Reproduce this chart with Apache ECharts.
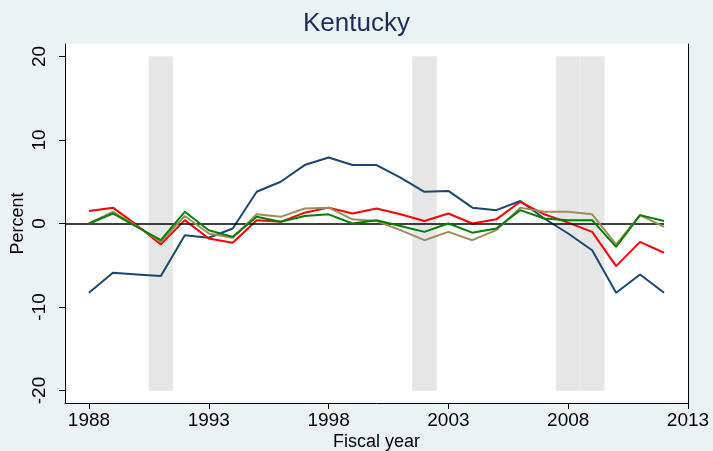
<!DOCTYPE html>
<html>
<head>
<meta charset="utf-8">
<script src="https://cdn.jsdelivr.net/npm/echarts@6/dist/echarts.min.js"></script>
<style>html,body{margin:0;padding:0;background:#eaf2f3;}#c{width:713px;height:451px;}</style>
</head>
<body>
<div id="c"></div>
<script>
var years = [1988,1989,1990,1991,1992,1993,1994,1995,1996,1997,1998,1999,2000,2001,2002,2003,2004,2005,2006,2007,2008,2009,2010,2011,2012];
var navy  = [-8.3,-5.9,-6.1,-6.3,-1.4,-1.7,-0.6,3.8,5.0,7.0,7.9,7.0,7.0,5.5,3.8,3.9,1.9,1.6,2.7,0.6,-1.2,-3.2,-8.3,-6.1,-8.3];
var red   = [1.5,1.9,-0.2,-2.5,0.4,-1.8,-2.3,0.4,0.2,1.3,1.9,1.2,1.8,1.1,0.3,1.2,0.0,0.5,2.6,1.1,0.1,-1.0,-5.1,-2.2,-3.5];
var green = [0.0,1.2,-0.4,-2.0,1.4,-0.8,-1.6,0.8,0.2,0.9,1.1,0.0,0.4,-0.3,-1.0,0.0,-1.1,-0.6,1.6,0.6,0.4,0.4,-2.8,1.0,0.3];
var tan   = [0.0,1.4,-0.3,-2.2,0.9,-1.2,-1.7,1.1,0.8,1.8,1.9,0.5,0.3,-0.8,-2.0,-1.0,-2.0,-0.8,1.9,1.4,1.4,1.1,-2.5,1.0,-0.4];
var xTicks = [1988,1993,1998,2003,2008,2013];
var yTicks = [-20,-10,0,10,20];
var bands = [[1990.5,1991.5],[2001.5,2002.5],[2007.5,2008.5],[2008.5,2009.5]];

function pairs(v){ return years.map(function(y,i){ return [y, v[i]]; }); }
var font = 'Liberation Sans, Arial, sans-serif';

var chart = echarts.init(document.getElementById('c'));
chart.setOption({
  backgroundColor: '#eaf2f3',
  animation: false,
  title: { text: 'Kentucky', left: 'center', top: 6,
    textStyle: { fontFamily: font, fontSize: 26, fontWeight: 'normal', color: '#1c2d5c' } },
  grid: { left: 65, right: 25, top: 44, bottom: 48, show: true, backgroundColor: '#ffffff', borderWidth: 0,
    containLabel: false, outerBoundsMode: 'none' },
  xAxis: {
    type: 'value', min: 1987, max: 2013,
    name: 'Fiscal year', nameLocation: 'middle', nameGap: 30, nameMoveOverlap: false,
    nameTextStyle: { fontFamily: font, fontSize: 18, color: '#000' },
    axisLine: { show: true, onZero: false, lineStyle: { color: '#000', width: 1 } },
    axisTick: { show: true, length: 6, customValues: xTicks, lineStyle: { color: '#000' } },
    axisLabel: { customValues: xTicks, formatter: function(v){ return String(v); },
      fontFamily: font, fontSize: 19, color: '#000', margin: 8 },
    splitLine: { show: false }
  },
  yAxis: [{
    type: 'value', min: -21.5, max: 21.5,
    name: 'Percent', nameLocation: 'middle', nameGap: 38, nameMoveOverlap: false,
    nameTextStyle: { fontFamily: font, fontSize: 18, color: '#000' },
    axisLine: { show: true, onZero: false, lineStyle: { color: '#000', width: 1 } },
    axisTick: { show: true, length: 6, customValues: yTicks, lineStyle: { color: '#000' } },
    axisLabel: { customValues: yTicks, rotate: 90, fontFamily: font, fontSize: 19, color: '#000', margin: 16 },
    splitLine: { show: false }
  },{
    type: 'value', min: -21.5, max: 21.5, position: 'right',
    axisLine: { show: true, onZero: false, lineStyle: { color: '#000', width: 1 } },
    axisTick: { show: false }, axisLabel: { show: false }, splitLine: { show: false }
  }],
  series: [
    { type: 'line', data: pairs(navy), symbol: 'none', lineStyle: { color: '#1a476f', width: 2 }, z: 3,
      markArea: { silent: true, itemStyle: { color: '#e6e6e6', borderColor: '#ececec', borderWidth: 1 },
        data: bands.map(function(b){ return [{ coord: [b[0], -20] }, { coord: [b[1], 20] }]; }) },
      markLine: { silent: true, symbol: 'none', label: { show: false },
        lineStyle: { color: '#000', width: 1.6, type: 'solid' },
        data: [[{ coord: [1987, 0] }, { coord: [2012, 0] }]] } },
    { type: 'line', data: pairs(red), symbol: 'none', lineStyle: { color: '#ff0000', width: 2 }, z: 4 },
    { type: 'line', data: pairs(tan), symbol: 'none', lineStyle: { color: '#a08c5a', width: 2 }, z: 5 },
    { type: 'line', data: pairs(green), symbol: 'none', lineStyle: { color: '#008000', width: 2 }, z: 6 }
  ]
});
</script>
</body>
</html>
